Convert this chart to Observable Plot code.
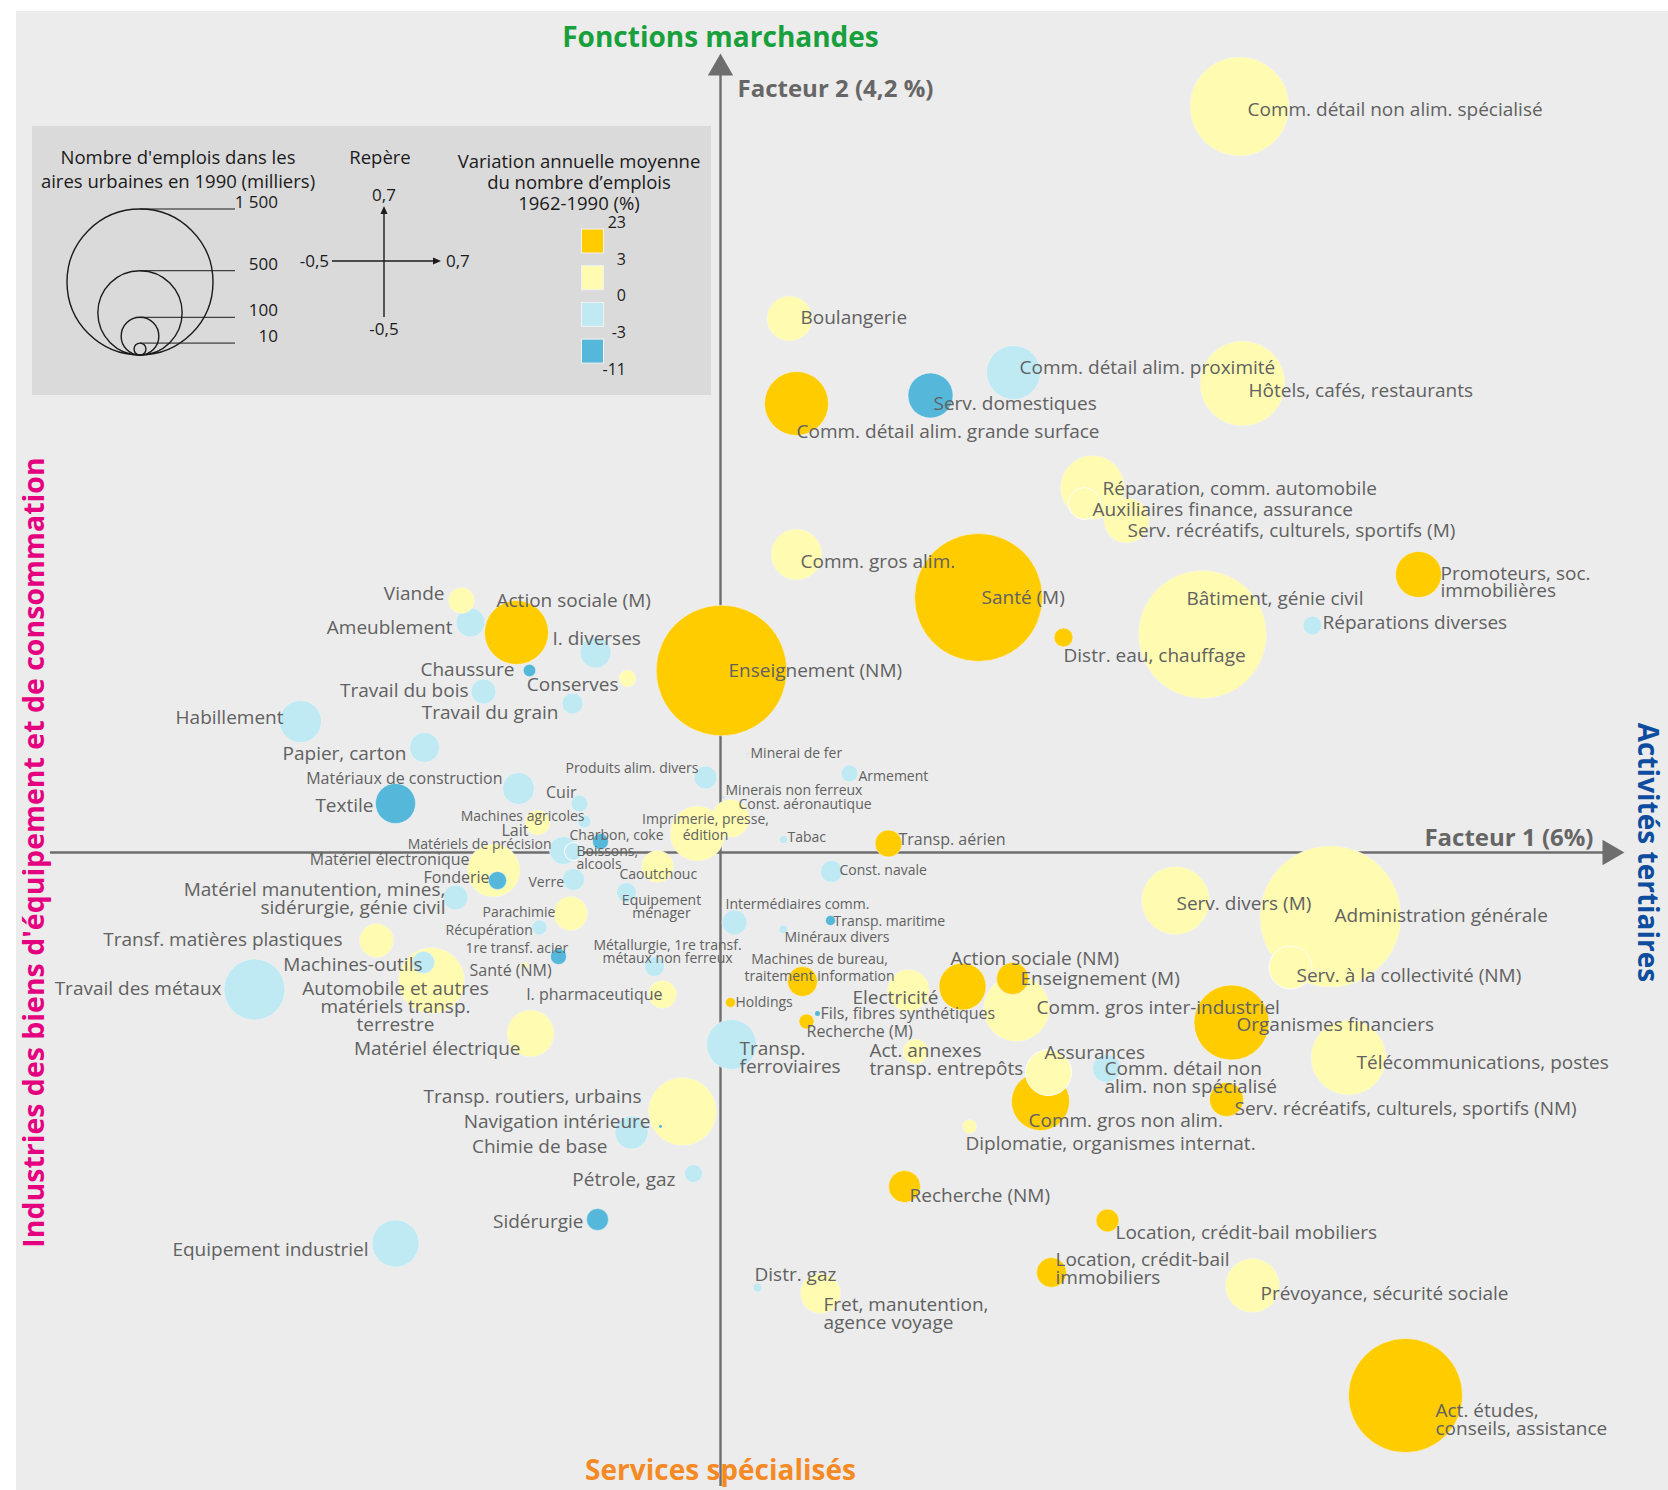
<!DOCTYPE html>
<html><head><meta charset="utf-8">
<script src="https://cdn.jsdelivr.net/npm/d3@7"></script>
<script src="https://cdn.jsdelivr.net/npm/@observablehq/plot@0.6"></script>
<style>
html,body{margin:0;padding:0;background:#fff;}
#wrap{position:relative;width:1668px;height:1490px;overflow:hidden;font-family:"Open Sans",sans-serif;}
#panel{position:absolute;left:16px;top:11px;right:0;bottom:0;background:#ececec;}
#legend{position:absolute;left:32px;top:126px;width:679px;height:269px;background:#dadada;}
#chart{position:absolute;left:0;top:0;}
</style></head><body>
<div id="wrap"><div id="panel"></div><div id="legend"></div><div id="chart"></div></div>
<script>
// ---------------- DATA ----------------
const sectors = [
"Comm. détail non alim. spécialisé","Boulangerie","Comm. détail alim. proximité","Serv. domestiques",
"Comm. détail alim. grande surface","Hôtels, cafés, restaurants","Réparation, comm. automobile",
"Auxiliaires finance, assurance","Serv. récréatifs, culturels, sportifs (M)","Comm. gros alim.","Santé (M)",
"Promoteurs, soc.\nimmobilières","Bâtiment, génie civil","Réparations diverses","Distr. eau, chauffage",
"Enseignement (NM)","Viande","Action sociale (M)","Ameublement","I. diverses","Chaussure","Conserves",
"Travail du bois","Travail du grain","Habillement","Papier, carton","Produits alim. divers","Minerai de fer",
"Armement","Minerais non ferreux","Const. aéronautique","Imprimerie, presse,\nédition","Tabac","Transp. aérien",
"Const. navale","Intermédiaires comm.","Transp. maritime","Minéraux divers","Machines de bureau,\ntraitement information",
"Holdings","Fils, fibres synthétiques","Recherche (M)","Electricité","Action sociale (NM)","Enseignement (M)",
"Comm. gros inter-industriel","Organismes financiers","Serv. divers (M)","Administration générale",
"Serv. à la collectivité (NM)","Télécommunications, postes","Assurances","Comm. détail non\nalim. non spécialisé",
"Comm. gros non alim.","Serv. récréatifs, culturels, sportifs (NM)","Diplomatie, organismes internat.",
"Act. annexes\ntransp. entrepôts","Transp.\nferroviaires","Transp. routiers, urbains","Navigation intérieure",
"Chimie de base","Pétrole, gaz","Sidérurgie","Equipement industriel","Recherche (NM)",
"Location, crédit-bail mobiliers","Location, crédit-bail\nimmobiliers","Prévoyance, sécurité sociale","Distr. gaz",
"Fret, manutention,\nagence voyage","Act. études,\nconseils, assistance","Matériel électronique","Fonderie",
"Matériels de précision","Boissons,\nalcools","Lait","Machines agricoles","Cuir","Charbon, coke","Verre",
"Caoutchouc","Equipement\nménager","Parachimie","Récupération","1re transf. acier",
"Métallurgie, 1re transf.\nmétaux non ferreux","Santé (NM)","I. pharmaceutique","Matériel électrique",
"Automobile et autres\nmatériels transp.\nterrestre","Machines-outils","Travail des métaux",
"Transf. matières plastiques","Matériel manutention, mines,\nsidérurgie, génie civil","Textile","Matériaux de construction"
];
// Facteur 1 (horizontal)
const factor1 = [0.519,0.069,0.293,0.210,0.076,0.522,0.372,0.364,0.406,0.076,0.258,0.698,0.482,0.592,0.343,0.001,
-0.259,-0.204,-0.250,-0.125,-0.191,-0.093,-0.237,-0.148,-0.420,-0.296,-0.015,0.027,0.129,0.003,0.010,-0.023,0.063,
0.168,0.111,0.014,0.110,0.063,0.082,0.010,0.097,0.086,0.188,0.242,0.292,0.296,0.511,0.455,0.610,0.570,0.628,0.328,
0.386,0.320,0.506,0.249,0.195,0.011,-0.038,-0.060,-0.089,-0.027,-0.123,-0.325,0.184,0.387,0.331,0.532,0.037,0.100,
0.685,-0.227,-0.223,-0.157,-0.147,-0.183,-0.136,-0.141,-0.120,-0.147,-0.063,-0.094,-0.150,-0.181,-0.162,-0.066,
-0.196,-0.058,-0.190,-0.289,-0.297,-0.466,-0.344,-0.265,-0.325,-0.202];
// Facteur 2 (vertical)
const factor2 = [0.746,0.534,0.480,0.457,0.449,0.469,0.365,0.349,0.332,0.298,0.255,0.278,0.218,0.227,0.215,0.182,
0.252,0.220,0.230,0.200,0.182,0.174,0.161,0.149,0.131,0.105,0.075,0.099,0.079,0.055,0.034,0.019,0.013,0.009,-0.019,
-0.070,-0.068,-0.077,-0.129,-0.150,-0.161,-0.169,-0.138,-0.134,-0.126,-0.156,-0.170,-0.048,-0.064,-0.115,-0.205,
-0.220,-0.216,-0.249,-0.247,-0.274,-0.199,-0.192,-0.259,-0.274,-0.280,-0.321,-0.367,-0.391,-0.334,-0.368,-0.420,
-0.433,-0.435,-0.441,-0.543,-0.018,-0.028,0.002,0.001,0.030,0.031,0.049,0.011,-0.027,-0.014,-0.040,-0.061,-0.075,
-0.104,-0.114,-0.113,-0.142,-0.181,-0.128,-0.110,-0.137,-0.088,-0.045,0.049,0.064];
// Nombre d'emplois 1990 (milliers)
const emplois = [690,143,205,143,288,509,288,72,143,183,1150,149,1150,25,25,1200,48,288,59,68,11,20,44,31,124,63,
37,0.3,20,0.6,102,213,3.5,51,34,44,7,4.5,63,7,1.8,16,124,156,72,307,396,326,1400,130,396,149,55,237,81,14,44,176,
326,0.6,77,23,34,156,72,37,63,205,4.5,113,915,198,23,55,23,44,12,20,18,34,72,28,81,16,18,28,2.5,55,156,307,34,262,
81,44,113,72];
// Variation annuelle moyenne 1962-1990 (%)
const variation = [1.8,0.6,-1.2,-3.8,9.5,2.1,1.6,2.4,2.6,1.1,3.9,4.6,0.4,-0.8,3.4,3.2,0.5,6.1,-1.1,-0.9,-3.6,0.3,
-1.4,-1.6,-2.2,-0.7,-0.4,-2.8,-0.6,-1.9,1.3,1.0,-1.3,4.3,-2.4,-0.5,-4.2,-1.5,3.7,12.0,-5.1,3.6,1.9,5.7,3.1,1.4,3.5,
2.3,1.7,2.7,1.2,2.2,-0.3,3.3,4.1,2.0,1.5,-1.7,0.8,-4.5,-1.0,-0.6,-4.9,-0.8,4.5,8.2,6.4,2.8,-0.2,2.5,7.3,0.7,-3.3,
-0.4,-0.3,0.2,-2.0,-2.6,-6.8,-0.9,0.4,-0.1,1.6,-1.2,-4.0,-1.8,2.9,1.3,0.6,0.5,-1.3,-0.5,2.2,-1.1,-3.9,-1.5];
// circles drawn with a white ring in the reference
const ringed = ["Auxiliaires finance, assurance","Serv. à la collectivité (NM)","Boissons,\nalcools","Assurances"];

const sizeLegend = [1500, 500, 100, 10];
const sizeLegendLabels = ["1 500", "500", "100", "10"];
const colorBreaks = [23, 3, 0, -3, -11];
const repere = {min: "-0,5", max: "0,7"};

// ---------------- LAYOUT (label placement, px offsets from the circle centre) ----------------
// [anchor, dx, dy (first line), size class, line gap]
const labelLayout = [
["s",8,3,"L"],["s",11,-1,"L"],["s",6,-5,"L"],["s",3,8,"L"],["s",0,28,"L"],["s",6,7,"L"],["s",10,1,"L"],
["s",8,6,"L"],["s",1,10,"L"],["s",4,7,"L"],["s",3,0,"L"],["s",22,-1,"L",17],["s",-16,-36,"L"],["s",10,-3,"L"],
["s",0,18,"L"],["s",7,0,"L"],["e",-17,-7,"L"],["s",-20,-32,"L"],["e",-18,5,"L"],["s",-43,-14,"L"],["e",-15,-1,"L"],
["e",-9,6,"L"],["e",-15,-1,"L"],["e",-14,9,"L"],["e",-17,-4,"L"],["e",-18,6,"L"],["e",-7,-9,"S"],["s",3,0,"S"],
["s",9,3,"S"],["s",2,-7,"S"],["s",8,-14,"S"],["m",8,-14,"S",16],["s",4,-2,"S"],["s",10,-4,"M"],["s",8,-1,"S"],
["s",-9,-18,"S"],["s",3,1,"S"],["s",1,8,"S"],["m",17,-22,"S",17],["s",5,0,"S"],["s",3,0,"M"],["s",0,10,"M"],
["s",-56,7,"L"],["s",-12,-28,"L"],["s",8,0,"L"],["s",20,-1,"L"],["s",5,2,"L"],["s",1,3,"L"],["s",4,-1,"L"],
["s",6,8,"L"],["s",8,5,"L"],["s",-4,-20,"L"],["s",-2,0,"L",18],["s",-12,19,"L"],["s",8,9,"L"],["s",-4,17,"L"],
["s",-46,-1,"L",18],["s",8,4,"L",18],["e",-41,-15,"L"],["e",-10,-5,"L"],["e",-24,14,"L"],["e",-18,6,"L"],
["e",-14,2,"L"],["e",-27,6,"L"],["s",5,9,"L"],["s",8,12,"L"],["s",4,-13,"L",18],["s",8,8,"L"],["s",-3,-13,"L"],
["s",3,11,"L",18],["s",30,15,"L",18],["e",-24,-11,"M"],["e",-8,-3,"M"],["e",-12,-6,"S"],["s",3,0,"S",13],
["e",-9,8,"M"],["e",0,-5,"S"],["e",-3,-11,"M"],["s",-31,-6,"S"],["s",-45,3,"S"],["s",-38,8,"S"],["m",35,8,"S",13],
["s",-88,-1,"S"],["s",-94,3,"S"],["s",-93,-8,"S"],["m",13,-21,"S",13],["s",-55,5,"M"],["e",0,0,"M"],
["e",-10,15,"L"],["m",-36,8,"L",18],["e",-1,2,"L"],["e",-33,-1,"L"],["e",-34,-1,"L"],["e",-10,-8,"L",18],
["e",-22,2,"L"],["e",-16,-10,"M"]
];
const sizeMap = {L: 19, M: 16, S: 14};

const W = 1668, H = 1490;
const xDomain = [-0.720, 0.948], yDomain = [-0.638, 0.852];
const axisX = [-0.670, 0.904], axisY = [-0.634, 0.799];
const kx = W / (xDomain[1] - xDomain[0]), ky = H / (yDomain[1] - yDomain[0]);
const FONT = "'Open Sans', sans-serif";
const AXIS = "#6e6e6e", LABEL = "#616161";
const palette = ["#55b8da", "#bfe9f3", "#fffbb0", "#ffcc00"];

const rows = sectors.map((name, i) => ({name, f1: factor1[i], f2: factor2[i], emplois: emplois[i],
  variation: variation[i], ringed: ringed.includes(name)}));

const labelRows = [];
rows.forEach((d, i) => {
  const [anchor, dx, dy, sz, gap = 16] = labelLayout[i];
  d.name.split("\n").forEach((line, k) => labelRows.push({
    text: line, anchor, x: d.f1 + dx / kx, y: d.f2 - (dy + k * gap) / ky, size: sizeMap[sz]
  }));
});

const anchors = {s: "start", m: "middle", e: "end"};
const textMarks = Object.keys(anchors).map(a => Plot.text(labelRows.filter(d => d.anchor === a), {
  x: "x", y: "y", text: "text", fontSize: "size", textAnchor: anchors[a], lineAnchor: "middle", fill: LABEL
}));

const chart = Plot.plot({
  width: W, height: H,
  marginTop: 0, marginRight: 0, marginBottom: 0, marginLeft: 0,
  style: {background: "transparent", fontFamily: FONT, overflow: "visible"},
  x: {domain: xDomain, axis: null},
  y: {domain: yDomain, axis: null},
  r: {type: "sqrt", domain: [0, 1500], range: [0, 73]},
  color: {type: "threshold", domain: [-3, 0, 3], range: palette},
  marks: [
    Plot.ruleY([0], {x1: axisX[0], x2: axisX[1] - 20 / kx, stroke: AXIS, strokeWidth: 2.4}),
    Plot.ruleX([0], {y1: axisY[0], y2: axisY[1] - 20 / ky, stroke: AXIS, strokeWidth: 2.4}),
    Plot.dot([axisX[1]], {x: d => d, y: () => 0, symbol: "triangle", r: 9.4, rotate: 90, dx: -14.7, fill: AXIS}),
    Plot.dot([axisY[1]], {x: () => 0, y: d => d, symbol: "triangle", r: 9.4, dy: 14.7, fill: AXIS}),
    Plot.dot(rows.filter(d => d.emplois >= 5), {x: "f1", y: "f2", r: "emplois", fill: "variation",
      stroke: d => d.ringed ? "#ffffff" : "#f4f4f4", strokeWidth: 1, strokeOpacity: d => d.ringed ? 1 : 0.55}),
    Plot.dot(rows.filter(d => d.emplois < 5), {x: "f1", y: "f2", r: "emplois", fill: "variation"}),
    ...textMarks,
    Plot.text(["Fonctions marchandes"], {x: () => 0, frameAnchor: "top", dy: 38, textAnchor: "middle",
      lineAnchor: "middle", fontSize: 28, fontWeight: "bold", fill: "#17a03b"}),
    Plot.text(["Facteur 2 (4,2 %)"], {x: () => 0, frameAnchor: "top", dy: 89, dx: 17, textAnchor: "start",
      lineAnchor: "middle", fontSize: 24, fontWeight: "bold", fill: "#666666"}),
    Plot.text(["Facteur 1 (6%)"], {x: () => axisX[1], y: () => 0, dx: -31, dy: -14, textAnchor: "end",
      lineAnchor: "middle", fontSize: 24, fontWeight: "bold", fill: "#666666"}),
    Plot.text(["Activités tertiaires"], {y: () => 0, frameAnchor: "right", dx: -22, rotate: 90,
      textAnchor: "middle", lineAnchor: "middle", fontSize: 28, fontWeight: "bold", fill: "#0d4c9f"}),
    Plot.text(["Industries des biens d'équipement et de consommation"], {y: () => 0, frameAnchor: "left", dx: 34,
      rotate: -90, textAnchor: "middle", lineAnchor: "middle", fontSize: 28.5, fontWeight: "bold", fill: "#e4007f"}),
    Plot.text(["Services spécialisés"], {x: () => 0, frameAnchor: "bottom", dy: -19, textAnchor: "middle",
      lineAnchor: "middle", fontSize: 28, fontWeight: "bold", fill: "#f58a24"})
  ]
});
document.getElementById("chart").appendChild(chart);

// ---------------- LEGEND ----------------
const rScale = chart.scale("r"), cScale = chart.scale("color");
const lg = d3.select("#legend").append("svg").attr("width", 679).attr("height", 269)
  .style("font-family", FONT).style("position", "absolute").style("left", 0).style("top", 0);
const INK = "#1b1b1b";
// size legend
const bx = 108, by = 229;
lg.append("text").attr("x", 146).attr("y", 38).attr("text-anchor", "middle").attr("font-size", 18.5)
  .attr("fill", INK).text("Nombre d'emplois dans les");
lg.append("text").attr("x", 146).attr("y", 62).attr("text-anchor", "middle").attr("font-size", 18.5)
  .attr("fill", INK).text("aires urbaines en 1990 (milliers)");
sizeLegend.forEach((v, i) => {
  const r = rScale.apply(v);
  lg.append("circle").attr("cx", bx).attr("cy", by - r).attr("r", r).attr("fill", "none")
    .attr("stroke", INK).attr("stroke-width", 1.4);
  lg.append("line").attr("x1", bx).attr("x2", 203).attr("y1", by - 2 * r).attr("y2", by - 2 * r)
    .attr("stroke", INK).attr("stroke-width", 1);
  lg.append("text").attr("x", 246).attr("y", by - 2 * r - 1).attr("text-anchor", "end").attr("font-size", 17)
    .attr("fill", INK).text(sizeLegendLabels[i]);
});
// repère
const cx0 = 352, cy0 = 135;
lg.append("text").attr("x", 348).attr("y", 38).attr("text-anchor", "middle").attr("font-size", 18.5)
  .attr("fill", INK).text("Repère");
lg.append("line").attr("x1", cx0).attr("x2", cx0).attr("y1", 191).attr("y2", 84).attr("stroke", INK).attr("stroke-width", 1.4);
lg.append("line").attr("x1", 300).attr("x2", 405).attr("y1", cy0).attr("y2", cy0).attr("stroke", INK).attr("stroke-width", 1.4);
lg.append("path").attr("d", `M${cx0},80 l-3.5,8 h7 z`).attr("fill", INK);
lg.append("path").attr("d", `M409,${cy0} l-8,-3.5 v7 z`).attr("fill", INK);
lg.append("text").attr("x", cx0).attr("y", 75).attr("text-anchor", "middle").attr("font-size", 17).attr("fill", INK).text(repere.max);
lg.append("text").attr("x", 414).attr("y", cy0 + 6).attr("text-anchor", "start").attr("font-size", 17).attr("fill", INK).text(repere.max);
lg.append("text").attr("x", 297).attr("y", cy0 + 6).attr("text-anchor", "end").attr("font-size", 17).attr("fill", INK).text(repere.min);
lg.append("text").attr("x", cx0).attr("y", 209).attr("text-anchor", "middle").attr("font-size", 17).attr("fill", INK).text(repere.min);
// colour legend
["Variation annuelle moyenne", "du nombre d’emplois", "1962-1990 (%)"].forEach((t, i) =>
  lg.append("text").attr("x", 547).attr("y", 42 + i * 20.8).attr("text-anchor", "middle").attr("font-size", 18.5)
    .attr("fill", INK).text(t));
for (let i = 0; i < colorBreaks.length - 1; i++) {
  const mid = (colorBreaks[i] + colorBreaks[i + 1]) / 2;
  lg.append("rect").attr("x", 549.5).attr("y", 103 + i * 36.7).attr("width", 22).attr("height", 24)
    .attr("fill", cScale.apply(mid)).attr("stroke", "#f2f2f2").attr("stroke-width", 1);
}
colorBreaks.forEach((b, i) => {
  lg.append("text").attr("x", 594).attr("y", 103 + i * 36.7 - 1).attr("text-anchor", "end")
    .attr("font-size", 16).attr("fill", INK).text(String(b));
});
</script></body></html>
